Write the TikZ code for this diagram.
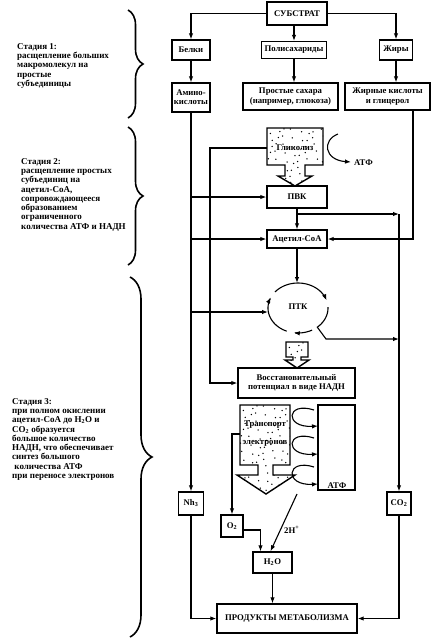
\documentclass[tikz,border=0pt]{standalone}
\usepackage{fontspec}
\setmainfont{Liberation Serif}
\usetikzlibrary{arrows.meta,decorations.pathreplacing}
\newcommand\dotgrid[4]{% x0 y0 nx ny
  \foreach \a in {0,...,#3} {\foreach \b in {0,...,#4} {%
    \fill ({#1+7.5*\a+2.5*sin(97*\a+53*\b+11)},{#2+7.5*\b+2.5*cos(71*\a+37*\b+5)}) circle (0.75pt);}}}
\begin{document}
\begin{tikzpicture}[x=1pt,y=-1pt,
  box/.style={draw,line width=1.4pt,fill=white,font=\fontsize{8.7}{9.2}\selectfont\bfseries,align=center,inner sep=1pt},
  lbl/.style={font=\fontsize{8.7}{9}\selectfont\bfseries,align=center,inner sep=0pt},
  con/.style={line width=1.1pt,-{Latex[length=6pt,width=4.5pt]}},
  outl/.style={line width=1.4pt},
  stage/.style={font=\fontsize{9}{9.3}\selectfont\bfseries,align=left,anchor=north west,inner sep=0pt},
  brc/.style={decorate,decoration={brace,amplitude=#1},line width=1.6pt}]
\useasboundingbox[fill=white] (0,0) rectangle (434,641);

% ---------- stage texts and braces
\node[stage] (s1) at (17,43) {Стадия 1:\\расщепление больших\\макромолекул на\\простые\\субъединицы};
\node[stage] (s2) at (21,158) {Стадия 2:\\расщепление простых\\субъединиц на\\ацетил-СоА,\\сопровождающееся\\образованием\\ограниченного\\количества АТФ и НАДН};
\node[stage] (s3) at (12,398) {Стадия 3:\\при полном окислении\\ацетил-СоА до H\textsubscript{2}O и\\CO\textsubscript{2} образуется\\большое количество\\НАДН, что обеспечивает\\синтез большого\\\ количества АТФ\\при переносе электронов};
\draw[brc=15pt] (128,10) -- (128,118);
\draw[brc=15pt] (128,127) -- (128,265);
\draw[brc=22pt] (130,277) -- (130,637);

% ---------- top boxes
\node[box,minimum width=60,minimum height=23] (sub) at (297,13.5) {СУБСТРАТ};
\node[box,minimum width=38,minimum height=20] (bel) at (191,50) {Белки};
\node[box,minimum width=65,minimum height=17] (pol) at (294,50) {Полисахариды};
\node[box,minimum width=33,minimum height=20] (zhi) at (396,50) {Жиры};
\node[box,minimum width=38,minimum height=29] (ami) at (191,97.5) {Амино-\\кислоты};
\node[box,minimum width=95,minimum height=27] (sah) at (290.5,96.5) {Простые сахара\\(например, глюкоза)};
\node[box,minimum width=85,minimum height=27] (zhk) at (387.5,96.5) {Жирные кислоты\\и глицерол};

\draw[con] (sub.west) -| (bel.north);
\draw[con] (sub.east) -| (zhi.north);
\draw[con] (pol.north |- sub.south) -- (pol.north);
\draw[con] (bel) -- (ami);
\draw[con] (pol.south) -- (pol.south |- sah.north);
\draw[con] (zhi.south) -- (zhi.south |- zhk.north);

% ---------- glycolysis
\def\glyP{(267,128) -- (323,128) -- (323,165) -- (305,165) -- (305,176) -- (312,176) -- (295,186) -- (278,176) -- (285,176) -- (285,165) -- (267,165) -- cycle}
\fill[white] \glyP;
\begin{scope}
\clip \glyP;
\dotgrid{270}{131}{7}{7}
\end{scope}
\draw[outl] \glyP;
\node[lbl,minimum width=56,minimum height=37] (gly) at (295,148) {Гликолиз};
\coordinate (ga) at (338,134);
\coordinate (gb) at (351,162);
\draw[con] (ga) .. controls (322,140) and (324,160) .. (gb);
\node[lbl,anchor=west] (atp1) at (354,163) {АТФ};

% ---------- PVK, acetyl
\node[box,minimum width=60,minimum height=22] (pvk) at (297,197) {ПВК};
\node[box,minimum width=60,minimum height=18] (aco) at (297,239) {Ацетил-СоА};
\draw[con] (pvk) -- (aco);

% ---------- NH3, CO2
\node[box,minimum width=25,minimum height=23] (nh3) at (191,503.5) {Nh\textsubscript{3}};
\node[box,minimum width=24,minimum height=23] (co2) at (399,503.5) {CO\textsubscript{2}};

% left amino line
\coordinate (ptkL) at (268,312);
\draw[con] (ami.south) -- (nh3.north);
\draw[con] (ami.south |- pvk.west) -- (pvk.west);
\draw[con] (ami.south |- aco.west) -- (aco.west);
\draw[con] (ami.south |- ptkL) -- (ptkL);

% fatty acid line
\coordinate (zx) at (413,0);
\draw[con] (zhk.south -| zx) |- (aco.east);

% PVK branch to CO2
\coordinate (b1) at (297,214);
\draw[con] (b1) -- (b1 -| co2.north);
\draw[con] (b1 -| co2.north) -- (co2.north);

% ---------- TCA cycle
\node[lbl] (ptk) at (298,307) {ПТК};
\coordinate (ptkT) at (298,283);
\draw[con] (aco.south) -- (aco.south |- ptkT);
\draw[con] plot[domain=0:1,samples=30] ({298+30*cos(140-122*\x)},{308-25*sin(140-122*\x)});
\coordinate (ptkX) at (399,339);
\draw[con] plot[domain=0:1,samples=20] ({298+30*cos(2-52*\x)},{308-25*sin(2-52*\x)}) -- (326,339) -- (ptkX);
\draw[con] plot[domain=0:1,samples=15] ({298+30*cos(-62-36*\x)},{308-25*sin(-62-36*\x)});
\draw[con] plot[domain=0:1,samples=30] ({298+30*cos(-112-93*\x)},{308-25*sin(-112-93*\x)});

% small dotted square with arrow
\def\sqP{(286,342) -- (308,342) -- (308,357) -- (301,357) -- (301,360) -- (309,360) -- (297,368) -- (285,360) -- (293,360) -- (293,357) -- (286,357) -- cycle}
\fill[white] \sqP;
\begin{scope}
\clip \sqP;
\dotgrid{289}{345}{2}{2}
\end{scope}
\draw[outl] \sqP;

% ---------- NADH
\node[box,minimum width=117,minimum height=30] (nadh) at (296.5,383) {Восстановительный\\потенциал в виде НАДН};
\coordinate (gk) at (210,0);
\draw[con] (gly.west) -- (gly.west -| gk) |- (nadh.west);

% ---------- electron transport
\def\trP{(240,405) -- (290,405) -- (290,465) -- (273,465) -- (273,475) -- (295,475) -- (266,494) -- (237,475) -- (258,475) -- (258,465) -- (240,465) -- cycle}
\fill[white] \trP;
\begin{scope}
\clip \trP;
\dotgrid{243}{408}{7}{12}
\end{scope}
\draw[outl] \trP;
\node[lbl,minimum width=50,minimum height=60] (tr) at (265,434) {Транспорт\\[9pt]электронов};

\node[draw,outl,fill=white,minimum width=37,minimum height=85,inner sep=0pt] (atpb) at (336.5,447.5) {};
\node[lbl,anchor=south] (atpl) at (337,489) {АТФ};

\coordinate (l1s) at (314,410); \coordinate (l1e) at (318,426);
\coordinate (l2s) at (314,438); \coordinate (l2e) at (318,454);
\coordinate (l3s) at (314,467); \coordinate (l3e) at (318,484);
\draw[con] (l1s) .. controls (286,401) and (284,428) .. (l1e);
\draw[con] (l2s) .. controls (286,429) and (284,456) .. (l2e);
\draw[con] (l3s) .. controls (286,458) and (284,486) .. (l3e);

% ---------- O2, H2O, products
\node[box,minimum width=22,minimum height=22] (o2) at (232,526) {O\textsubscript{2}};
\node[box,minimum width=39,minimum height=21] (h2o) at (272.5,562.5) {H\textsubscript{2}O};
\node[box,minimum width=140,minimum height=29] (prod) at (287,618.5) {ПРОДУКТЫ МЕТАБОЛИЗМА};

\draw[con] (tr.west) -| (o2.north);
\draw[con] ([yshift=-4pt]o2.east) -| ([xshift=-12pt]h2o.north);
\coordinate (hs) at (297,494);
\draw[con] (hs) -- ([xshift=-2pt]h2o.north);
\node[lbl,anchor=west] (hlab) at (284,530) {2H\textsuperscript{+}};
\draw[con] (h2o.south) -- (h2o.south |- prod.north);
\draw[con] (nh3.south) |- (prod.west);
\draw[con] (co2.south) |- (prod.east);
\end{tikzpicture}
\end{document}
